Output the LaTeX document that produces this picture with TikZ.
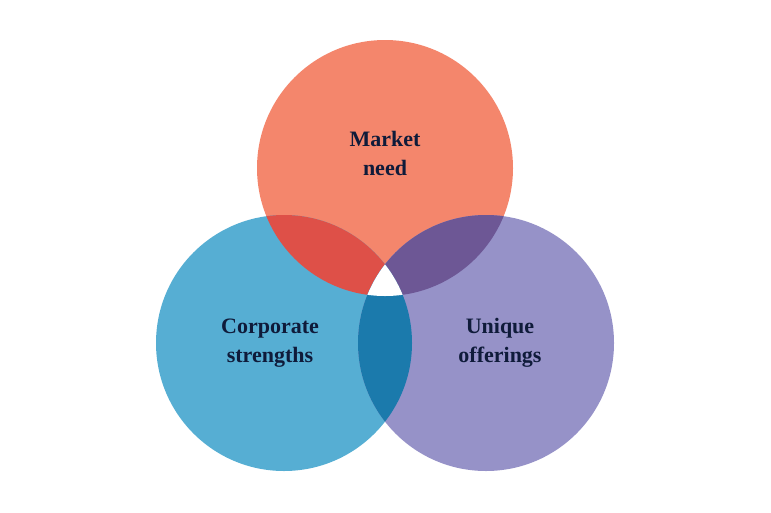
\documentclass[tikz,border=0pt]{standalone}
\usepackage{fontspec}
\setmainfont{Liberation Serif}
\definecolor{ctop}{HTML}{F4866C}
\definecolor{cleft}{HTML}{56AED3}
\definecolor{cright}{HTML}{9692C8}
\definecolor{ctl}{HTML}{DE5048}
\definecolor{ctr}{HTML}{6D5795}
\definecolor{clr}{HTML}{1B7AAC}
\definecolor{ctxt}{HTML}{0F1B3A}
\tikzset{lbl/.style={align=center,font=\fontsize{22}{29}\selectfont\bfseries,text=ctxt}}
\begin{document}
\begin{tikzpicture}[x=1pt,y=-1pt]
\useasboundingbox (0,0) rectangle (771,512);
\def\T{(385,168) circle (128)}
\def\L{(284,343) circle (128)}
\def\R{(486,343) circle (128)}
\fill[ctop] \T; \fill[cleft] \L; \fill[cright] \R;
\begin{scope}\clip \T; \fill[ctl] \L; \fill[ctr] \R;\end{scope}
\begin{scope}\clip \L; \fill[clr] \R;\end{scope}
\begin{scope}\clip \T; \clip \L; \fill[white] \R;\end{scope}
\node[lbl] (m) at (385,153) {Market\\need};
\node[lbl] (c) at (270,343) {Corporate\\strengths};
\node[lbl] (u) at (500,343) {Unique\\offerings};
\end{tikzpicture}
\end{document}
